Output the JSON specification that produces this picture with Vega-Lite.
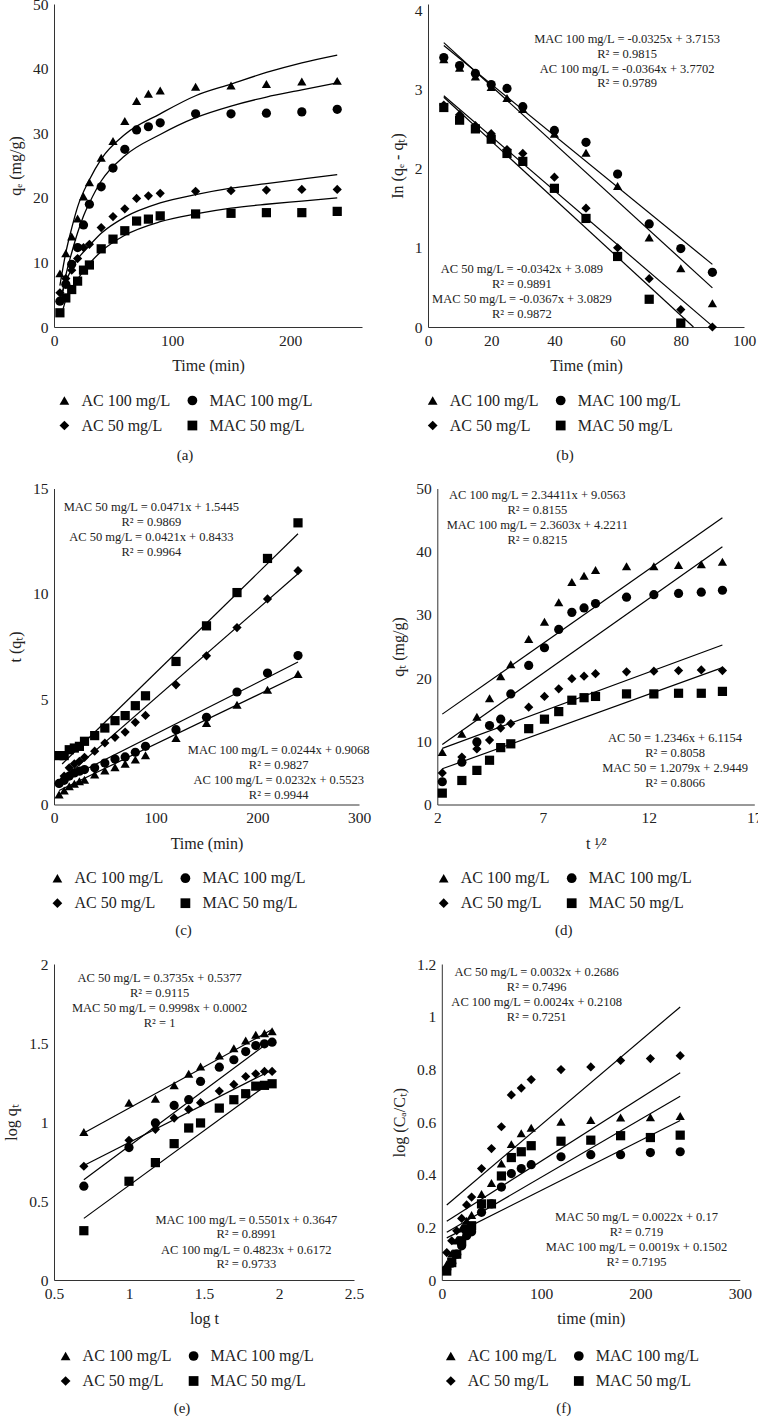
{
"$schema": "https://vega.github.io/schema/vega-lite/v6.json",
"padding": {"left": 3, "top": -3, "right": 0, "bottom": 0},
"config": {
  "view": {"stroke": null},
  "font": "Liberation Serif",
  "axis": {"domainColor": "#333", "domainWidth": 1, "ticks": false, "grid": false, "labelFont": "Liberation Serif", "labelFontSize": 15.5, "labelColor": "#222", "titleFont": "Liberation Serif", "titleFontSize": 16, "titleFontWeight": "normal", "titleColor": "#222", "labelPadding": 6, "titlePadding": 9, "labelFlush": false, "labelOverlap": false, "format": ".1~f"},
  "legend": {"orient": "none", "columns": 2, "labelFont": "Liberation Serif", "labelFontSize": 16, "labelColor": "#222", "symbolSize": 95, "symbolFillColor": "black", "symbolStrokeColor": "black", "symbolOpacity": 1, "labelOffset": 9, "columnPadding": 14, "rowPadding": 9, "padding": 0, "labelLimit": 0},
  "title": {"font": "Liberation Serif", "fontSize": 15, "fontWeight": "normal", "color": "#222"}
},
"resolve": {"scale": {"shape": "independent"}, "legend": {"shape": "independent"}},
"spacing": 18.5,
"vconcat": [
{
"spacing": 27,
"resolve": {"scale": {"shape": "independent"}, "legend": {"shape": "independent"}},
"hconcat": [
{
"width": 308, "height": 323,
"title": {"text": "(a)", "orient": "bottom", "frame": "group", "anchor": "middle", "dx": -23, "offset": 14},
"layer": [
{"data": {"values": [
{"s":"AC 100 mg/L","x":5,"y":8.3},{"s":"AC 100 mg/L","x":10,"y":11.4},{"s":"AC 100 mg/L","x":15,"y":14.0},{"s":"AC 100 mg/L","x":20,"y":16.8},{"s":"AC 100 mg/L","x":25,"y":20.2},{"s":"AC 100 mg/L","x":30,"y":22.4},{"s":"AC 100 mg/L","x":40,"y":26.2},{"s":"AC 100 mg/L","x":50,"y":28.8},{"s":"AC 100 mg/L","x":60,"y":31.9},{"s":"AC 100 mg/L","x":70,"y":35.0},{"s":"AC 100 mg/L","x":80,"y":36.1},{"s":"AC 100 mg/L","x":90,"y":36.6},{"s":"AC 100 mg/L","x":120,"y":37.2},{"s":"AC 100 mg/L","x":150,"y":37.4},{"s":"AC 100 mg/L","x":180,"y":37.6},{"s":"AC 100 mg/L","x":210,"y":38.0},{"s":"AC 100 mg/L","x":240,"y":38.1},
{"s":"MAC 100 mg/L","x":5,"y":4.0},{"s":"MAC 100 mg/L","x":10,"y":6.6},{"s":"MAC 100 mg/L","x":15,"y":9.7},{"s":"MAC 100 mg/L","x":20,"y":12.3},{"s":"MAC 100 mg/L","x":25,"y":15.8},{"s":"MAC 100 mg/L","x":30,"y":19.0},{"s":"MAC 100 mg/L","x":40,"y":21.7},{"s":"MAC 100 mg/L","x":50,"y":24.6},{"s":"MAC 100 mg/L","x":60,"y":27.5},{"s":"MAC 100 mg/L","x":70,"y":30.5},{"s":"MAC 100 mg/L","x":80,"y":31.0},{"s":"MAC 100 mg/L","x":90,"y":31.6},{"s":"MAC 100 mg/L","x":120,"y":33.0},{"s":"MAC 100 mg/L","x":150,"y":33.0},{"s":"MAC 100 mg/L","x":180,"y":33.1},{"s":"MAC 100 mg/L","x":210,"y":33.3},{"s":"MAC 100 mg/L","x":240,"y":33.7},
{"s":"AC 50 mg/L","x":5,"y":5.3},{"s":"AC 50 mg/L","x":10,"y":7.5},{"s":"AC 50 mg/L","x":15,"y":8.8},{"s":"AC 50 mg/L","x":20,"y":10.6},{"s":"AC 50 mg/L","x":25,"y":12.3},{"s":"AC 50 mg/L","x":30,"y":12.8},{"s":"AC 50 mg/L","x":40,"y":15.4},{"s":"AC 50 mg/L","x":50,"y":17.1},{"s":"AC 50 mg/L","x":60,"y":18.3},{"s":"AC 50 mg/L","x":70,"y":19.9},{"s":"AC 50 mg/L","x":80,"y":20.3},{"s":"AC 50 mg/L","x":90,"y":20.7},{"s":"AC 50 mg/L","x":120,"y":21.0},{"s":"AC 50 mg/L","x":150,"y":21.1},{"s":"AC 50 mg/L","x":180,"y":21.2},{"s":"AC 50 mg/L","x":210,"y":21.3},{"s":"AC 50 mg/L","x":240,"y":21.3},
{"s":"MAC 50 mg/L","x":5,"y":2.2},{"s":"MAC 50 mg/L","x":10,"y":4.5},{"s":"MAC 50 mg/L","x":15,"y":5.8},{"s":"MAC 50 mg/L","x":20,"y":7.1},{"s":"MAC 50 mg/L","x":25,"y":8.8},{"s":"MAC 50 mg/L","x":30,"y":9.6},{"s":"MAC 50 mg/L","x":40,"y":12.1},{"s":"MAC 50 mg/L","x":50,"y":13.6},{"s":"MAC 50 mg/L","x":60,"y":14.9},{"s":"MAC 50 mg/L","x":70,"y":16.4},{"s":"MAC 50 mg/L","x":80,"y":16.7},{"s":"MAC 50 mg/L","x":90,"y":17.2},{"s":"MAC 50 mg/L","x":120,"y":17.5},{"s":"MAC 50 mg/L","x":150,"y":17.6},{"s":"MAC 50 mg/L","x":180,"y":17.7},{"s":"MAC 50 mg/L","x":210,"y":17.7},{"s":"MAC 50 mg/L","x":240,"y":17.9}
]},
"mark": {"type": "point", "filled": true, "opacity": 1, "size": 85, "color": "black"},
"encoding": {
"x": {"field": "x", "type": "quantitative", "scale": {"domain": [0, 261], "nice": false, "zero": false}, "axis": {"title": "Time (min)", "values": [0, 100, 200]}},
"y": {"field": "y", "type": "quantitative", "scale": {"domain": [0, 50], "nice": false}, "axis": {"title": "qₑ (mg/g)", "values": [0, 10, 20, 30, 40, 50]}},
"shape": {"field": "s", "type": "nominal", "scale": {"domain": ["AC 100 mg/L", "AC 50 mg/L", "MAC 100 mg/L", "MAC 50 mg/L"], "range": ["triangle-up", "diamond", "circle", "square"]}, "legend": {"title": null, "legendX": 2.4, "legendY": 388.5}}
}},
{"data": {"values": [
{"s":"AC 100 mg/L","x":5,"y":6.4},{"s":"AC 100 mg/L","x":10,"y":11.5},{"s":"AC 100 mg/L","x":15,"y":15.3},{"s":"AC 100 mg/L","x":20,"y":18.6},{"s":"AC 100 mg/L","x":30,"y":22.8},{"s":"AC 100 mg/L","x":40,"y":26.0},{"s":"AC 100 mg/L","x":60,"y":29.8},{"s":"AC 100 mg/L","x":90,"y":33.0},{"s":"AC 100 mg/L","x":120,"y":35.8},{"s":"AC 100 mg/L","x":150,"y":37.6},{"s":"AC 100 mg/L","x":180,"y":39.4},{"s":"AC 100 mg/L","x":210,"y":40.9},{"s":"AC 100 mg/L","x":240,"y":42.1},
{"s":"MAC 100 mg/L","x":6,"y":3.8},{"s":"MAC 100 mg/L","x":10,"y":8.0},{"s":"MAC 100 mg/L","x":15,"y":11.5},{"s":"MAC 100 mg/L","x":20,"y":14.6},{"s":"MAC 100 mg/L","x":25,"y":17.2},{"s":"MAC 100 mg/L","x":30,"y":19.2},{"s":"MAC 100 mg/L","x":40,"y":22.6},{"s":"MAC 100 mg/L","x":60,"y":26.5},{"s":"MAC 100 mg/L","x":90,"y":29.8},{"s":"MAC 100 mg/L","x":120,"y":32.4},{"s":"MAC 100 mg/L","x":150,"y":34.2},{"s":"MAC 100 mg/L","x":180,"y":35.6},{"s":"MAC 100 mg/L","x":210,"y":36.7},{"s":"MAC 100 mg/L","x":240,"y":37.8},
{"s":"AC 50 mg/L","x":5,"y":4.3},{"s":"AC 50 mg/L","x":10,"y":7.0},{"s":"AC 50 mg/L","x":15,"y":9.0},{"s":"AC 50 mg/L","x":20,"y":10.5},{"s":"AC 50 mg/L","x":30,"y":12.6},{"s":"AC 50 mg/L","x":40,"y":14.5},{"s":"AC 50 mg/L","x":60,"y":17.0},{"s":"AC 50 mg/L","x":90,"y":19.2},{"s":"AC 50 mg/L","x":120,"y":20.5},{"s":"AC 50 mg/L","x":150,"y":21.5},{"s":"AC 50 mg/L","x":180,"y":22.2},{"s":"AC 50 mg/L","x":210,"y":22.9},{"s":"AC 50 mg/L","x":240,"y":23.6},
{"s":"MAC 50 mg/L","x":7,"y":2.3},{"s":"MAC 50 mg/L","x":10,"y":4.2},{"s":"MAC 50 mg/L","x":15,"y":5.9},{"s":"MAC 50 mg/L","x":20,"y":7.4},{"s":"MAC 50 mg/L","x":30,"y":9.8},{"s":"MAC 50 mg/L","x":40,"y":11.7},{"s":"MAC 50 mg/L","x":60,"y":14.2},{"s":"MAC 50 mg/L","x":90,"y":16.3},{"s":"MAC 50 mg/L","x":120,"y":17.5},{"s":"MAC 50 mg/L","x":150,"y":18.4},{"s":"MAC 50 mg/L","x":180,"y":19.0},{"s":"MAC 50 mg/L","x":210,"y":19.5},{"s":"MAC 50 mg/L","x":240,"y":20.0}
]},
"mark": {"type": "line", "interpolate": "monotone", "color": "black", "strokeWidth": 1.3},
"encoding": {"x": {"field": "x", "type": "quantitative"}, "y": {"field": "y", "type": "quantitative"}, "detail": {"field": "s"}}}
]
},
{
"width": 316, "height": 323,
"title": {"text": "(b)", "orient": "bottom", "frame": "group", "anchor": "middle", "dx": -21, "offset": 14},
"layer": [
{"data": {"values": [
{"s":"AC 100 mg/L","x":5,"y":3.38},{"s":"AC 100 mg/L","x":10,"y":3.27},{"s":"AC 100 mg/L","x":15,"y":3.16},{"s":"AC 100 mg/L","x":20,"y":3.03},{"s":"AC 100 mg/L","x":25,"y":2.89},{"s":"AC 100 mg/L","x":30,"y":2.75},{"s":"AC 100 mg/L","x":40,"y":2.44},{"s":"AC 100 mg/L","x":50,"y":2.2},{"s":"AC 100 mg/L","x":60,"y":1.78},{"s":"AC 100 mg/L","x":70,"y":1.13},{"s":"AC 100 mg/L","x":80,"y":0.74},{"s":"AC 100 mg/L","x":90,"y":0.3},
{"s":"MAC 100 mg/L","x":5,"y":3.4},{"s":"MAC 100 mg/L","x":10,"y":3.3},{"s":"MAC 100 mg/L","x":15,"y":3.2},{"s":"MAC 100 mg/L","x":20,"y":3.06},{"s":"MAC 100 mg/L","x":25,"y":3.01},{"s":"MAC 100 mg/L","x":30,"y":2.78},{"s":"MAC 100 mg/L","x":40,"y":2.48},{"s":"MAC 100 mg/L","x":50,"y":2.33},{"s":"MAC 100 mg/L","x":60,"y":1.93},{"s":"MAC 100 mg/L","x":70,"y":1.3},{"s":"MAC 100 mg/L","x":80,"y":0.99},{"s":"MAC 100 mg/L","x":90,"y":0.69},
{"s":"AC 50 mg/L","x":5,"y":2.8},{"s":"AC 50 mg/L","x":10,"y":2.68},{"s":"AC 50 mg/L","x":15,"y":2.54},{"s":"AC 50 mg/L","x":20,"y":2.44},{"s":"AC 50 mg/L","x":25,"y":2.24},{"s":"AC 50 mg/L","x":30,"y":2.19},{"s":"AC 50 mg/L","x":40,"y":1.89},{"s":"AC 50 mg/L","x":50,"y":1.5},{"s":"AC 50 mg/L","x":60,"y":1.0},{"s":"AC 50 mg/L","x":70,"y":0.61},{"s":"AC 50 mg/L","x":80,"y":0.22},{"s":"AC 50 mg/L","x":90,"y":0.0},
{"s":"MAC 50 mg/L","x":5,"y":2.77},{"s":"MAC 50 mg/L","x":10,"y":2.61},{"s":"MAC 50 mg/L","x":15,"y":2.5},{"s":"MAC 50 mg/L","x":20,"y":2.37},{"s":"MAC 50 mg/L","x":25,"y":2.19},{"s":"MAC 50 mg/L","x":30,"y":2.09},{"s":"MAC 50 mg/L","x":40,"y":1.75},{"s":"MAC 50 mg/L","x":50,"y":1.37},{"s":"MAC 50 mg/L","x":60,"y":0.89},{"s":"MAC 50 mg/L","x":70,"y":0.35},{"s":"MAC 50 mg/L","x":80,"y":0.05}
]},
"mark": {"type": "point", "filled": true, "opacity": 1, "size": 85, "color": "black"},
"encoding": {
"x": {"field": "x", "type": "quantitative", "scale": {"domain": [0, 100], "nice": false, "zero": false}, "axis": {"title": "Time (min)", "values": [0, 20, 40, 60, 80, 100]}},
"y": {"field": "y", "type": "quantitative", "scale": {"domain": [0, 4.076], "nice": false}, "axis": {"title": "In (qₑ - qₜ)", "values": [0, 1, 2, 3, 4]}},
"shape": {"field": "s", "type": "nominal", "scale": {"domain": ["AC 100 mg/L", "AC 50 mg/L", "MAC 100 mg/L", "MAC 50 mg/L"], "range": ["triangle-up", "diamond", "circle", "square"]}, "legend": {"title": null, "legendX": -3.3, "legendY": 388.5}}
}},
{"data": {"values": [
{"s":"MAC 100 mg/L","x":5,"y":3.553,"x2":90,"y2":0.79},
{"s":"AC 100 mg/L","x":5,"y":3.588,"x2":90,"y2":0.494},
{"s":"AC 50 mg/L","x":5,"y":2.918,"x2":90,"y2":0.011},
{"s":"MAC 50 mg/L","x":5,"y":2.899,"x2":84,"y2":0.0}
]},
"mark": {"type": "rule", "color": "black", "strokeWidth": 1.2},
"encoding": {"x": {"field": "x", "type": "quantitative"}, "y": {"field": "y", "type": "quantitative"}, "x2": {"field": "x2"}, "y2": {"field": "y2"}}},
{"data": {"values": [
{"t":"MAC 100 mg/L = -0.0325x + 3.7153","x":63,"y":3.64},
{"t":"R² = 0.9815","x":63,"y":3.45},
{"t":"AC 100 mg/L = -0.0364x + 3.7702","x":63,"y":3.26},
{"t":"R² = 0.9789","x":63,"y":3.08},
{"t":"AC 50 mg/L = -0.0342x + 3.089","x":29.7,"y":0.728},
{"t":"R² = 0.9891","x":29.7,"y":0.538},
{"t":"MAC 50 mg/L = -0.0367x + 3.0829","x":29.7,"y":0.349},
{"t":"R² = 0.9872","x":29.7,"y":0.16}
]},
"mark": {"type": "text", "font": "Liberation Serif", "fontSize": 12.5, "align": "center", "baseline": "middle", "color": "#222"},
"encoding": {"x": {"field": "x", "type": "quantitative"}, "y": {"field": "y", "type": "quantitative"}, "text": {"field": "t"}}}
]
}
]
},
{
"spacing": 19.3,
"resolve": {"scale": {"shape": "independent"}, "legend": {"shape": "independent"}},
"hconcat": [
{
"width": 305, "height": 316,
"title": {"text": "(c)", "orient": "bottom", "frame": "group", "anchor": "middle", "dx": -23, "offset": 12},
"layer": [
{"data": {"values": [
{"s":"AC 100 mg/L","x":5,"y":0.47},{"s":"AC 100 mg/L","x":10,"y":0.66},{"s":"AC 100 mg/L","x":15,"y":0.87},{"s":"AC 100 mg/L","x":20,"y":0.98},{"s":"AC 100 mg/L","x":25,"y":1.1},{"s":"AC 100 mg/L","x":30,"y":1.18},{"s":"AC 100 mg/L","x":40,"y":1.42},{"s":"AC 100 mg/L","x":50,"y":1.61},{"s":"AC 100 mg/L","x":60,"y":1.77},{"s":"AC 100 mg/L","x":70,"y":1.93},{"s":"AC 100 mg/L","x":80,"y":2.13},{"s":"AC 100 mg/L","x":90,"y":2.34},{"s":"AC 100 mg/L","x":120,"y":3.16},{"s":"AC 100 mg/L","x":150,"y":3.87},{"s":"AC 100 mg/L","x":180,"y":4.74},{"s":"AC 100 mg/L","x":210,"y":5.45},{"s":"AC 100 mg/L","x":240,"y":6.19},
{"s":"MAC 100 mg/L","x":5,"y":1.0},{"s":"MAC 100 mg/L","x":10,"y":1.15},{"s":"MAC 100 mg/L","x":15,"y":1.35},{"s":"MAC 100 mg/L","x":20,"y":1.5},{"s":"MAC 100 mg/L","x":25,"y":1.58},{"s":"MAC 100 mg/L","x":30,"y":1.66},{"s":"MAC 100 mg/L","x":40,"y":1.74},{"s":"MAC 100 mg/L","x":50,"y":1.97},{"s":"MAC 100 mg/L","x":60,"y":2.16},{"s":"MAC 100 mg/L","x":70,"y":2.26},{"s":"MAC 100 mg/L","x":80,"y":2.48},{"s":"MAC 100 mg/L","x":90,"y":2.76},{"s":"MAC 100 mg/L","x":120,"y":3.55},{"s":"MAC 100 mg/L","x":150,"y":4.14},{"s":"MAC 100 mg/L","x":180,"y":5.34},{"s":"MAC 100 mg/L","x":210,"y":6.24},{"s":"MAC 100 mg/L","x":240,"y":7.07},
{"s":"AC 50 mg/L","x":5,"y":1.0},{"s":"AC 50 mg/L","x":10,"y":1.35},{"s":"AC 50 mg/L","x":15,"y":1.74},{"s":"AC 50 mg/L","x":20,"y":1.93},{"s":"AC 50 mg/L","x":25,"y":2.05},{"s":"AC 50 mg/L","x":30,"y":2.24},{"s":"AC 50 mg/L","x":40,"y":2.53},{"s":"AC 50 mg/L","x":50,"y":2.92},{"s":"AC 50 mg/L","x":60,"y":3.19},{"s":"AC 50 mg/L","x":70,"y":3.44},{"s":"AC 50 mg/L","x":80,"y":3.9},{"s":"AC 50 mg/L","x":90,"y":4.23},{"s":"AC 50 mg/L","x":120,"y":5.68},{"s":"AC 50 mg/L","x":150,"y":7.06},{"s":"AC 50 mg/L","x":180,"y":8.4},{"s":"AC 50 mg/L","x":210,"y":9.76},{"s":"AC 50 mg/L","x":240,"y":11.1},
{"s":"MAC 50 mg/L","x":5,"y":2.32},{"s":"MAC 50 mg/L","x":10,"y":2.32},{"s":"MAC 50 mg/L","x":15,"y":2.6},{"s":"MAC 50 mg/L","x":20,"y":2.68},{"s":"MAC 50 mg/L","x":25,"y":2.76},{"s":"MAC 50 mg/L","x":30,"y":3.0},{"s":"MAC 50 mg/L","x":40,"y":3.27},{"s":"MAC 50 mg/L","x":50,"y":3.63},{"s":"MAC 50 mg/L","x":60,"y":3.98},{"s":"MAC 50 mg/L","x":70,"y":4.22},{"s":"MAC 50 mg/L","x":80,"y":4.69},{"s":"MAC 50 mg/L","x":90,"y":5.16},{"s":"MAC 50 mg/L","x":120,"y":6.79},{"s":"MAC 50 mg/L","x":150,"y":8.48},{"s":"MAC 50 mg/L","x":180,"y":10.06},{"s":"MAC 50 mg/L","x":210,"y":11.68},{"s":"MAC 50 mg/L","x":240,"y":13.37}
]},
"mark": {"type": "point", "filled": true, "opacity": 1, "size": 85, "color": "black"},
"encoding": {
"x": {"field": "x", "type": "quantitative", "scale": {"domain": [0, 300], "nice": false, "zero": false}, "axis": {"title": "Time (min)", "values": [0, 100, 200, 300]}},
"y": {"field": "y", "type": "quantitative", "scale": {"domain": [0, 15], "nice": false}, "axis": {"title": "t (qₜ)", "values": [0, 5, 10, 15]}},
"shape": {"field": "s", "type": "nominal", "scale": {"domain": ["AC 100 mg/L", "AC 50 mg/L", "MAC 100 mg/L", "MAC 50 mg/L"], "range": ["triangle-up", "diamond", "circle", "square"]}, "legend": {"title": null, "legendX": -4.6, "legendY": 381.7}}
}},
{"data": {"values": [
{"s":"MAC 50 mg/L","x":8,"y":1.92,"x2":240,"y2":12.85},
{"s":"AC 50 mg/L","x":5,"y":1.054,"x2":240,"y2":10.95},
{"s":"MAC 100 mg/L","x":5,"y":1.029,"x2":240,"y2":6.76},
{"s":"AC 100 mg/L","x":5,"y":0.668,"x2":240,"y2":6.12}
]},
"mark": {"type": "rule", "color": "black", "strokeWidth": 1.2},
"encoding": {"x": {"field": "x", "type": "quantitative"}, "y": {"field": "y", "type": "quantitative"}, "x2": {"field": "x2"}, "y2": {"field": "y2"}}},
{"data": {"values": [
{"t":"MAC 50 mg/L = 0.0471x + 1.5445","x":95.8,"y":14.13},
{"t":"R² = 0.9869","x":95.8,"y":13.42},
{"t":"AC 50 mg/L = 0.0421x + 0.8433","x":95.8,"y":12.71},
{"t":"R² = 0.9964","x":95.8,"y":12.0},
{"t":"MAC 100 mg/L = 0.0244x + 0.9068","x":221,"y":2.57},
{"t":"R² = 0.9827","x":221,"y":1.86},
{"t":"AC 100 mg/L = 0.0232x + 0.5523","x":221,"y":1.15},
{"t":"R² = 0.9944","x":221,"y":0.44}
]},
"mark": {"type": "text", "font": "Liberation Serif", "fontSize": 12.5, "align": "center", "baseline": "middle", "color": "#222"},
"encoding": {"x": {"field": "x", "type": "quantitative"}, "y": {"field": "y", "type": "quantitative"}, "text": {"field": "t"}}}
]
},
{
"width": 317, "height": 316,
"title": {"text": "(d)", "orient": "bottom", "frame": "group", "anchor": "middle", "dx": -32, "offset": 12},
"layer": [
{"data": {"values": [
{"s":"AC 100 mg/L","x":2.236,"y":8.3},{"s":"AC 100 mg/L","x":3.162,"y":11.2},{"s":"AC 100 mg/L","x":3.873,"y":13.9},{"s":"AC 100 mg/L","x":4.472,"y":16.8},{"s":"AC 100 mg/L","x":5.0,"y":20.3},{"s":"AC 100 mg/L","x":5.477,"y":22.2},{"s":"AC 100 mg/L","x":6.325,"y":26.2},{"s":"AC 100 mg/L","x":7.071,"y":28.9},{"s":"AC 100 mg/L","x":7.746,"y":32.0},{"s":"AC 100 mg/L","x":8.367,"y":35.2},{"s":"AC 100 mg/L","x":8.944,"y":36.2},{"s":"AC 100 mg/L","x":9.487,"y":37.1},{"s":"AC 100 mg/L","x":10.954,"y":37.7},{"s":"AC 100 mg/L","x":12.247,"y":37.7},{"s":"AC 100 mg/L","x":13.416,"y":37.9},{"s":"AC 100 mg/L","x":14.491,"y":38.0},{"s":"AC 100 mg/L","x":15.492,"y":38.4},
{"s":"MAC 100 mg/L","x":2.236,"y":3.6},{"s":"MAC 100 mg/L","x":3.162,"y":6.7},{"s":"MAC 100 mg/L","x":3.873,"y":9.9},{"s":"MAC 100 mg/L","x":4.472,"y":12.5},{"s":"MAC 100 mg/L","x":5.0,"y":13.5},{"s":"MAC 100 mg/L","x":5.477,"y":17.5},{"s":"MAC 100 mg/L","x":6.325,"y":22.0},{"s":"MAC 100 mg/L","x":7.071,"y":24.8},{"s":"MAC 100 mg/L","x":7.746,"y":27.7},{"s":"MAC 100 mg/L","x":8.367,"y":30.4},{"s":"MAC 100 mg/L","x":8.944,"y":31.1},{"s":"MAC 100 mg/L","x":9.487,"y":31.8},{"s":"MAC 100 mg/L","x":10.954,"y":32.8},{"s":"MAC 100 mg/L","x":12.247,"y":33.2},{"s":"MAC 100 mg/L","x":13.416,"y":33.4},{"s":"MAC 100 mg/L","x":14.491,"y":33.6},{"s":"MAC 100 mg/L","x":15.492,"y":33.9},
{"s":"AC 50 mg/L","x":2.236,"y":5.0},{"s":"AC 50 mg/L","x":3.162,"y":7.5},{"s":"AC 50 mg/L","x":3.873,"y":8.8},{"s":"AC 50 mg/L","x":4.472,"y":10.2},{"s":"AC 50 mg/L","x":5.0,"y":12.1},{"s":"AC 50 mg/L","x":5.477,"y":12.8},{"s":"AC 50 mg/L","x":6.325,"y":15.4},{"s":"AC 50 mg/L","x":7.071,"y":17.1},{"s":"AC 50 mg/L","x":7.746,"y":18.3},{"s":"AC 50 mg/L","x":8.367,"y":19.9},{"s":"AC 50 mg/L","x":8.944,"y":20.3},{"s":"AC 50 mg/L","x":9.487,"y":20.7},{"s":"AC 50 mg/L","x":10.954,"y":21.0},{"s":"AC 50 mg/L","x":12.247,"y":21.1},{"s":"AC 50 mg/L","x":13.416,"y":21.2},{"s":"AC 50 mg/L","x":14.491,"y":21.3},{"s":"AC 50 mg/L","x":15.492,"y":21.2},
{"s":"MAC 50 mg/L","x":2.236,"y":1.8},{"s":"MAC 50 mg/L","x":3.162,"y":3.8},{"s":"MAC 50 mg/L","x":3.873,"y":5.4},{"s":"MAC 50 mg/L","x":4.472,"y":7.0},{"s":"MAC 50 mg/L","x":5.0,"y":9.0},{"s":"MAC 50 mg/L","x":5.477,"y":9.6},{"s":"MAC 50 mg/L","x":6.325,"y":12.0},{"s":"MAC 50 mg/L","x":7.071,"y":13.5},{"s":"MAC 50 mg/L","x":7.746,"y":14.7},{"s":"MAC 50 mg/L","x":8.367,"y":16.5},{"s":"MAC 50 mg/L","x":8.944,"y":16.9},{"s":"MAC 50 mg/L","x":9.487,"y":17.1},{"s":"MAC 50 mg/L","x":10.954,"y":17.5},{"s":"MAC 50 mg/L","x":12.247,"y":17.5},{"s":"MAC 50 mg/L","x":13.416,"y":17.6},{"s":"MAC 50 mg/L","x":14.491,"y":17.6},{"s":"MAC 50 mg/L","x":15.492,"y":17.9}
]},
"mark": {"type": "point", "filled": true, "opacity": 1, "size": 85, "color": "black"},
"encoding": {
"x": {"field": "x", "type": "quantitative", "scale": {"domain": [2, 17], "nice": false, "zero": false}, "axis": {"title": "t ¹⁄²", "values": [2, 7, 12, 17]}},
"y": {"field": "y", "type": "quantitative", "scale": {"domain": [0, 50], "nice": false}, "axis": {"title": "qₜ (mg/g)", "values": [0, 10, 20, 30, 40, 50]}},
"shape": {"field": "s", "type": "nominal", "scale": {"domain": ["AC 100 mg/L", "AC 50 mg/L", "MAC 100 mg/L", "MAC 50 mg/L"], "range": ["triangle-up", "diamond", "circle", "square"]}, "legend": {"title": null, "legendX": -1.6, "legendY": 381.7}}
}},
{"data": {"values": [
{"s":"AC 100 mg/L","x":2.236,"y":14.3,"x2":15.49,"y2":45.37},
{"s":"MAC 100 mg/L","x":2.236,"y":9.5,"x2":15.49,"y2":40.78},
{"s":"AC 50 mg/L","x":2.236,"y":8.88,"x2":15.49,"y2":25.24},
{"s":"MAC 50 mg/L","x":2.236,"y":5.65,"x2":15.49,"y2":21.66}
]},
"mark": {"type": "rule", "color": "black", "strokeWidth": 1.2},
"encoding": {"x": {"field": "x", "type": "quantitative"}, "y": {"field": "y", "type": "quantitative"}, "x2": {"field": "x2"}, "y2": {"field": "y2"}}},
{"data": {"values": [
{"t":"AC 100 mg/L = 2.34411x + 9.0563","x":6.73,"y":48.94},
{"t":"R² = 0.8155","x":6.73,"y":46.57},
{"t":"MAC 100 mg/L = 2.3603x + 4.2211","x":6.73,"y":44.19},
{"t":"R² = 0.8215","x":6.73,"y":41.82},
{"t":"AC 50 = 1.2346x + 6.1154","x":13.25,"y":10.56},
{"t":"R² = 0.8058","x":13.25,"y":8.18},
{"t":"MAC 50 = 1.2079x + 2.9449","x":13.25,"y":5.81},
{"t":"R² = 0.8066","x":13.25,"y":3.43}
]},
"mark": {"type": "text", "font": "Liberation Serif", "fontSize": 12.5, "align": "center", "baseline": "middle", "color": "#222"},
"encoding": {"x": {"field": "x", "type": "quantitative"}, "y": {"field": "y", "type": "quantitative"}, "text": {"field": "t"}}}
]
}
]
},
{
"spacing": 26.8,
"resolve": {"scale": {"shape": "independent"}, "legend": {"shape": "independent"}},
"hconcat": [
{
"width": 300, "height": 316,
"title": {"text": "(e)", "orient": "bottom", "frame": "group", "anchor": "middle", "dx": -22, "offset": 12},
"layer": [
{"data": {"values": [
{"s":"AC 100 mg/L","x":0.699,"y":0.937},{"s":"AC 100 mg/L","x":1.0,"y":1.122},{"s":"AC 100 mg/L","x":1.176,"y":1.147},{"s":"AC 100 mg/L","x":1.301,"y":1.232},{"s":"AC 100 mg/L","x":1.398,"y":1.305},{"s":"AC 100 mg/L","x":1.477,"y":1.352},{"s":"AC 100 mg/L","x":1.602,"y":1.421},{"s":"AC 100 mg/L","x":1.699,"y":1.467},{"s":"AC 100 mg/L","x":1.778,"y":1.516},{"s":"AC 100 mg/L","x":1.845,"y":1.552},{"s":"AC 100 mg/L","x":1.903,"y":1.562},{"s":"AC 100 mg/L","x":1.954,"y":1.575},
{"s":"MAC 100 mg/L","x":0.699,"y":0.594},{"s":"MAC 100 mg/L","x":1.0,"y":0.838},{"s":"MAC 100 mg/L","x":1.176,"y":0.994},{"s":"MAC 100 mg/L","x":1.301,"y":1.105},{"s":"MAC 100 mg/L","x":1.398,"y":1.141},{"s":"MAC 100 mg/L","x":1.477,"y":1.257},{"s":"MAC 100 mg/L","x":1.602,"y":1.347},{"s":"MAC 100 mg/L","x":1.699,"y":1.394},{"s":"MAC 100 mg/L","x":1.778,"y":1.446},{"s":"MAC 100 mg/L","x":1.845,"y":1.484},{"s":"MAC 100 mg/L","x":1.903,"y":1.495},{"s":"MAC 100 mg/L","x":1.954,"y":1.505},
{"s":"AC 50 mg/L","x":0.699,"y":0.72},{"s":"AC 50 mg/L","x":1.0,"y":0.884},{"s":"AC 50 mg/L","x":1.176,"y":0.954},{"s":"AC 50 mg/L","x":1.301,"y":1.025},{"s":"AC 50 mg/L","x":1.398,"y":1.08},{"s":"AC 50 mg/L","x":1.477,"y":1.122},{"s":"AC 50 mg/L","x":1.602,"y":1.196},{"s":"AC 50 mg/L","x":1.699,"y":1.238},{"s":"AC 50 mg/L","x":1.778,"y":1.288},{"s":"AC 50 mg/L","x":1.845,"y":1.305},{"s":"AC 50 mg/L","x":1.903,"y":1.32},{"s":"AC 50 mg/L","x":1.954,"y":1.32},
{"s":"MAC 50 mg/L","x":0.699,"y":0.312},{"s":"MAC 50 mg/L","x":1.0,"y":0.625},{"s":"MAC 50 mg/L","x":1.176,"y":0.743},{"s":"MAC 50 mg/L","x":1.301,"y":0.863},{"s":"MAC 50 mg/L","x":1.398,"y":0.962},{"s":"MAC 50 mg/L","x":1.477,"y":0.994},{"s":"MAC 50 mg/L","x":1.602,"y":1.088},{"s":"MAC 50 mg/L","x":1.699,"y":1.141},{"s":"MAC 50 mg/L","x":1.778,"y":1.179},{"s":"MAC 50 mg/L","x":1.845,"y":1.227},{"s":"MAC 50 mg/L","x":1.903,"y":1.232},{"s":"MAC 50 mg/L","x":1.954,"y":1.242}
]},
"mark": {"type": "point", "filled": true, "opacity": 1, "size": 85, "color": "black"},
"encoding": {
"x": {"field": "x", "type": "quantitative", "scale": {"domain": [0.5, 2.5], "nice": false, "zero": false}, "axis": {"title": "log t", "values": [0.5, 1, 1.5, 2, 2.5]}},
"y": {"field": "y", "type": "quantitative", "scale": {"domain": [0, 2], "nice": false}, "axis": {"title": "log qₜ", "values": [0, 0.5, 1, 1.5, 2]}},
"shape": {"field": "s", "type": "nominal", "scale": {"domain": ["AC 100 mg/L", "AC 50 mg/L", "MAC 100 mg/L", "MAC 50 mg/L"], "range": ["triangle-up", "diamond", "circle", "square"]}, "legend": {"title": null, "legendX": 3.6, "legendY": 384}}
}},
{"data": {"values": [
{"s":"AC 100 mg/L","x":0.699,"y":0.93,"x2":1.954,"y2":1.585},
{"s":"MAC 100 mg/L","x":0.699,"y":0.635,"x2":1.954,"y2":1.52},
{"s":"AC 50 mg/L","x":0.699,"y":0.725,"x2":1.954,"y2":1.33},
{"s":"MAC 50 mg/L","x":0.699,"y":0.39,"x2":1.954,"y2":1.26}
]},
"mark": {"type": "rule", "color": "black", "strokeWidth": 1.2},
"encoding": {"x": {"field": "x", "type": "quantitative"}, "y": {"field": "y", "type": "quantitative"}, "x2": {"field": "x2"}, "y2": {"field": "y2"}}},
{"data": {"values": [
{"t":"AC 50 mg/L = 0.3735x + 0.5377","x":1.204,"y":1.909},
{"t":"R² = 0.9115","x":1.204,"y":1.817},
{"t":"MAC 50 mg/L = 0.9998x + 0.0002","x":1.204,"y":1.72},
{"t":"R² = 1","x":1.204,"y":1.627},
{"t":"MAC 100 mg/L = 0.5501x + 0.3647","x":1.782,"y":0.379},
{"t":"R² = 0.8991","x":1.782,"y":0.288},
{"t":"AC 100 mg/L = 0.4823x + 0.6172","x":1.782,"y":0.189},
{"t":"R² = 0.9733","x":1.782,"y":0.099}
]},
"mark": {"type": "text", "font": "Liberation Serif", "fontSize": 12.5, "align": "center", "baseline": "middle", "color": "#222"},
"encoding": {"x": {"field": "x", "type": "quantitative"}, "y": {"field": "y", "type": "quantitative"}, "text": {"field": "t"}}}
]
},
{
"width": 298, "height": 316,
"title": {"text": "(f)", "orient": "bottom", "frame": "group", "anchor": "middle", "dx": -27, "offset": 12},
"layer": [
{"data": {"values": [
{"s":"AC 100 mg/L","x":5,"y":0.06},{"s":"AC 100 mg/L","x":10,"y":0.1},{"s":"AC 100 mg/L","x":15,"y":0.15},{"s":"AC 100 mg/L","x":20,"y":0.196},{"s":"AC 100 mg/L","x":25,"y":0.225},{"s":"AC 100 mg/L","x":30,"y":0.247},{"s":"AC 100 mg/L","x":40,"y":0.327},{"s":"AC 100 mg/L","x":50,"y":0.368},{"s":"AC 100 mg/L","x":60,"y":0.442},{"s":"AC 100 mg/L","x":70,"y":0.516},{"s":"AC 100 mg/L","x":80,"y":0.557},{"s":"AC 100 mg/L","x":90,"y":0.578},{"s":"AC 100 mg/L","x":120,"y":0.601},{"s":"AC 100 mg/L","x":150,"y":0.608},{"s":"AC 100 mg/L","x":180,"y":0.617},{"s":"AC 100 mg/L","x":210,"y":0.618},{"s":"AC 100 mg/L","x":240,"y":0.623},
{"s":"MAC 100 mg/L","x":5,"y":0.041},{"s":"MAC 100 mg/L","x":10,"y":0.064},{"s":"MAC 100 mg/L","x":15,"y":0.098},{"s":"MAC 100 mg/L","x":20,"y":0.13},{"s":"MAC 100 mg/L","x":25,"y":0.168},{"s":"MAC 100 mg/L","x":30,"y":0.183},{"s":"MAC 100 mg/L","x":40,"y":0.257},{"s":"MAC 100 mg/L","x":50,"y":0.289},{"s":"MAC 100 mg/L","x":60,"y":0.353},{"s":"MAC 100 mg/L","x":70,"y":0.404},{"s":"MAC 100 mg/L","x":80,"y":0.423},{"s":"MAC 100 mg/L","x":90,"y":0.438},{"s":"MAC 100 mg/L","x":120,"y":0.468},{"s":"MAC 100 mg/L","x":150,"y":0.476},{"s":"MAC 100 mg/L","x":180,"y":0.476},{"s":"MAC 100 mg/L","x":210,"y":0.484},{"s":"MAC 100 mg/L","x":240,"y":0.487},
{"s":"AC 50 mg/L","x":5,"y":0.104},{"s":"AC 50 mg/L","x":10,"y":0.149},{"s":"AC 50 mg/L","x":15,"y":0.187},{"s":"AC 50 mg/L","x":20,"y":0.234},{"s":"AC 50 mg/L","x":25,"y":0.285},{"s":"AC 50 mg/L","x":30,"y":0.315},{"s":"AC 50 mg/L","x":40,"y":0.423},{"s":"AC 50 mg/L","x":50,"y":0.499},{"s":"AC 50 mg/L","x":60,"y":0.582},{"s":"AC 50 mg/L","x":70,"y":0.703},{"s":"AC 50 mg/L","x":80,"y":0.729},{"s":"AC 50 mg/L","x":90,"y":0.761},{"s":"AC 50 mg/L","x":120,"y":0.799},{"s":"AC 50 mg/L","x":150,"y":0.809},{"s":"AC 50 mg/L","x":180,"y":0.834},{"s":"AC 50 mg/L","x":210,"y":0.841},{"s":"AC 50 mg/L","x":240,"y":0.852},
{"s":"MAC 50 mg/L","x":5,"y":0.034},{"s":"MAC 50 mg/L","x":10,"y":0.066},{"s":"MAC 50 mg/L","x":15,"y":0.098},{"s":"MAC 50 mg/L","x":20,"y":0.149},{"s":"MAC 50 mg/L","x":25,"y":0.194},{"s":"MAC 50 mg/L","x":30,"y":0.206},{"s":"MAC 50 mg/L","x":40,"y":0.289},{"s":"MAC 50 mg/L","x":50,"y":0.289},{"s":"MAC 50 mg/L","x":60,"y":0.395},{"s":"MAC 50 mg/L","x":70,"y":0.465},{"s":"MAC 50 mg/L","x":80,"y":0.487},{"s":"MAC 50 mg/L","x":90,"y":0.51},{"s":"MAC 50 mg/L","x":120,"y":0.527},{"s":"MAC 50 mg/L","x":150,"y":0.531},{"s":"MAC 50 mg/L","x":180,"y":0.548},{"s":"MAC 50 mg/L","x":210,"y":0.541},{"s":"MAC 50 mg/L","x":240,"y":0.55}
]},
"mark": {"type": "point", "filled": true, "opacity": 1, "size": 85, "color": "black"},
"encoding": {
"x": {"field": "x", "type": "quantitative", "scale": {"domain": [0, 300], "nice": false, "zero": false}, "axis": {"title": "time (min)", "values": [0, 100, 200, 300]}},
"y": {"field": "y", "type": "quantitative", "scale": {"domain": [0, 1.2], "nice": false}, "axis": {"title": "log (Cₐ/Cₜ)", "values": [0, 0.2, 0.4, 0.6, 0.8, 1, 1.2]}},
"shape": {"field": "s", "type": "nominal", "scale": {"domain": ["AC 100 mg/L", "AC 50 mg/L", "MAC 100 mg/L", "MAC 50 mg/L"], "range": ["triangle-up", "diamond", "circle", "square"]}, "legend": {"title": null, "legendX": 1, "legendY": 384}}
}},
{"data": {"values": [
{"s":"AC 50 mg/L","x":5,"y":0.285,"x2":240,"y2":1.037},
{"s":"AC 100 mg/L","x":5,"y":0.223,"x2":240,"y2":0.787},
{"s":"MAC 50 mg/L","x":5,"y":0.181,"x2":240,"y2":0.698},
{"s":"MAC 100 mg/L","x":5,"y":0.16,"x2":240,"y2":0.606}
]},
"mark": {"type": "rule", "color": "black", "strokeWidth": 1.2},
"encoding": {"x": {"field": "x", "type": "quantitative"}, "y": {"field": "y", "type": "quantitative"}, "x2": {"field": "x2"}, "y2": {"field": "y2"}}},
{"data": {"values": [
{"t":"AC 50 mg/L = 0.0032x + 0.2686","x":95.5,"y":1.168},
{"t":"R² = 0.7496","x":95.5,"y":1.113},
{"t":"AC 100 mg/L = 0.0024x + 0.2108","x":95.5,"y":1.057},
{"t":"R² = 0.7251","x":95.5,"y":0.999},
{"t":"MAC 50 mg/L = 0.0022x + 0.17","x":196,"y":0.238},
{"t":"R² = 0.719","x":196,"y":0.181},
{"t":"MAC 100 mg/L = 0.0019x + 0.1502","x":196,"y":0.124},
{"t":"R² = 0.7195","x":196,"y":0.069}
]},
"mark": {"type": "text", "font": "Liberation Serif", "fontSize": 12.5, "align": "center", "baseline": "middle", "color": "#222"},
"encoding": {"x": {"field": "x", "type": "quantitative"}, "y": {"field": "y", "type": "quantitative"}, "text": {"field": "t"}}}
]
}
]
}
]
}
